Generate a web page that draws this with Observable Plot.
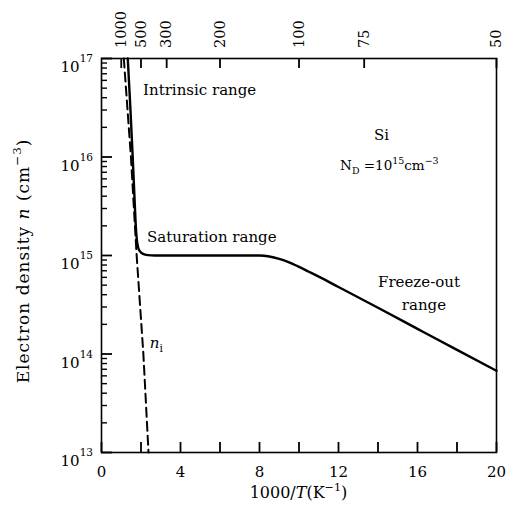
<!DOCTYPE html>
<html>
<head>
<meta charset="utf-8">
<script src="https://cdn.jsdelivr.net/npm/d3@7"></script>
<script src="https://cdn.jsdelivr.net/npm/@observablehq/plot@0.6"></script>
<style>
  body { margin: 0; background: #fff; }
  svg { display: block; }
</style>
</head>
<body>
<div id="chart"></div>
<script>
// Electron density of n-type Si (N_D = 1e15 cm^-3) versus inverse temperature.

// Total electron density n (solid curve)
const invT = [1.33, 1.46, 1.58, 1.68, 1.73, 1.78, 1.85, 1.95, 2.1, 2.35, 2.7, 3, 4, 5, 6, 7, 7.6, 8.0, 8.5, 9.0, 9.5, 10, 10.5, 11, 12, 14, 16, 18, 20];
const nTotal = [1e17, 3.2e16, 1e16, 3.5e15, 2.1e15, 1.5e15, 1.22e15, 1.1e15, 1.04e15, 1.01e15, 1.0e15, 1e15, 1e15, 1e15, 1e15, 1e15, 1e15, 1.0e15, 9.77e14, 9.23e14, 8.51e14, 7.67e14, 6.84e14, 6.10e14, 4.79e14, 2.95e14, 1.80e14, 1.10e14, 6.76e13];

// Intrinsic carrier density n_i (dashed curve)
const invTi = [1.13, 1.49, 1.78, 2.12, 2.38];
const nIntrinsic = [1e17, 1e16, 1e15, 1e14, 1e13];

// Axis ticks
const bottomTicks = [0, 2, 4, 6, 8, 10, 12, 14, 16, 18, 20];
const bottomLabels = [0, 4, 8, 12, 16, 20];
const decades = [1e13, 1e14, 1e15, 1e16, 1e17];
const topTickPos = [1, 2, 3.3, 6, 10, 13.3, 20];
const topTickLabels = ["1000", "500", "300", "200", "100", "75", "50"];

const W = 510, H = 512;
const mL = 101, mR = 14, mT = 58, mB = 60;
const pw = W - mL - mR, ph = H - mT - mB;
const FONT = "DejaVu Serif";

// tick lengths (px) expressed in data units of each axis
const xDom = [0, 20], yDom = [1e13, 1e17];
const pxPerX = pw / (xDom[1] - xDom[0]);
const pxPerDecade = ph / Math.log10(yDom[1] / yDom[0]);
const yLen = px => 10 ** (px / pxPerDecade);
const xLen = px => px / pxPerX;

const minors = decades.slice(0, -1).flatMap(d => [2, 3, 4, 5, 6, 7, 8, 9].map(k => k * d));
const solid = invT.map((x, i) => ({x, n: nTotal[i]}));
const dashed = invTi.map((x, i) => ({x, n: nIntrinsic[i]}));

const tickStyle = {stroke: "black", strokeWidth: 1.8};

const chart = Plot.plot({
  width: W,
  height: H,
  marginLeft: mL,
  marginRight: mR,
  marginTop: mT,
  marginBottom: mB,
  style: {fontFamily: FONT, background: "white", color: "black"},
  x: {domain: xDom, axis: null},
  y: {type: "log", domain: yDom, axis: null},
  marks: [
    // curves
    Plot.line(dashed, {x: "x", y: "n", stroke: "black", strokeWidth: 2, strokeDasharray: "9,5"}),
    Plot.line(solid, {x: "x", y: "n", stroke: "black", strokeWidth: 2.4, curve: "monotone-x"}),
    Plot.frame({stroke: "black", strokeWidth: 1.6}),
    // inward ticks
    Plot.ruleX(bottomTicks, {x: d => d, y1: yDom[0], y2: yDom[0] * yLen(10), ...tickStyle}),
    Plot.ruleX(topTickPos, {x: d => d, y1: yDom[1] / yLen(10), y2: yDom[1], ...tickStyle}),
    Plot.ruleY(decades, {y: d => d, x1: xDom[0], x2: xDom[0] + xLen(11), ...tickStyle}),
    Plot.ruleY(minors, {y: d => d, x1: xDom[0], x2: xDom[0] + xLen(6), stroke: "black", strokeWidth: 1.4}),
    // bottom tick labels
    Plot.text(bottomLabels, {x: d => d, text: d => String(d), frameAnchor: "bottom", lineAnchor: "top", dy: 14, fontSize: 15, fill: "black"})
  ]
});

const sx = chart.scale("x"), sy = chart.scale("y");
const g = d3.select(chart).append("g")
  .attr("font-family", FONT)
  .attr("fill", "black");

// left decade labels 10^k
decades.forEach(v => {
  const t = g.append("text")
    .attr("x", mL - 8)
    .attr("y", sy.apply(v) + 14)
    .attr("text-anchor", "end")
    .attr("font-size", 15);
  t.append("tspan").text("10");
  t.append("tspan").attr("dy", -10).attr("font-size", 10.5).text(Math.round(Math.log10(v)));
});

// top temperature labels (K), rotated
topTickPos.forEach((p, i) => {
  g.append("text")
    .attr("transform", `translate(${sx.apply(p)},48) rotate(-90)`)
    .attr("dy", "0.35em")
    .attr("text-anchor", "start")
    .attr("font-size", 14.5)
    .text(topTickLabels[i]);
});

// rich text helper: parts = [[text, kind]] with kind "", "i" (italic), "sup", "sub"
function rich(sel, parts, size) {
  let shift = 0;
  parts.forEach(([s, kind]) => {
    const ts = sel.append("tspan").text(s);
    let target = 0;
    if (kind === "sup") target = -0.45 * size;
    if (kind === "sub") target = 0.28 * size;
    ts.attr("dy", target - shift);
    shift = target;
    if (kind === "sup" || kind === "sub") ts.attr("font-size", size * 0.7);
    if (kind === "i") ts.attr("font-style", "italic");
  });
}

// x axis title
rich(g.append("text").attr("x", mL + pw / 2).attr("y", 498).attr("text-anchor", "middle").attr("font-size", 16),
  [["1000/", ""], ["T", "i"], ["(K", ""], ["\u22121", "sup"], [")", ""]], 16);

// y axis title
rich(g.append("text").attr("transform", "translate(29,261) rotate(-90)").attr("text-anchor", "middle")
  .attr("font-size", 17).attr("letter-spacing", 1),
  [["Electron density ", ""], ["n", "i"], [" (cm", ""], ["\u22123", "sup"], [")", ""]], 17);

// annotations placed in data coordinates
const at = (x, n) => [sx.apply(x), sy.apply(n)];
function note(x, n, anchor, parts, size = 15) {
  const [px, py] = at(x, n);
  rich(g.append("text").attr("x", px).attr("y", py).attr("text-anchor", anchor).attr("font-size", size), parts, size);
}
note(2.13, 10 ** 16.62, "start", [["Intrinsic range", ""]]);
note(2.33, 10 ** 15.13, "start", [["Saturation range", ""]]);
note(14.2, 10 ** 16.17, "middle", [["Si", ""]]);
note(14.6, 10 ** 15.86, "middle", [["N", ""], ["D", "sub"], [" =10", ""], ["15", "sup"], ["cm", ""], ["\u22123", "sup"]], 13.5);
note(16.1, 10 ** 14.68, "middle", [["Freeze-out", ""]]);
note(16.35, 10 ** 14.44, "middle", [["range", ""]]);
note(2.47, 10 ** 14.06, "start", [["n", "i"], ["i", "sub"]]);

document.getElementById("chart").appendChild(chart);
</script>
</body>
</html>
